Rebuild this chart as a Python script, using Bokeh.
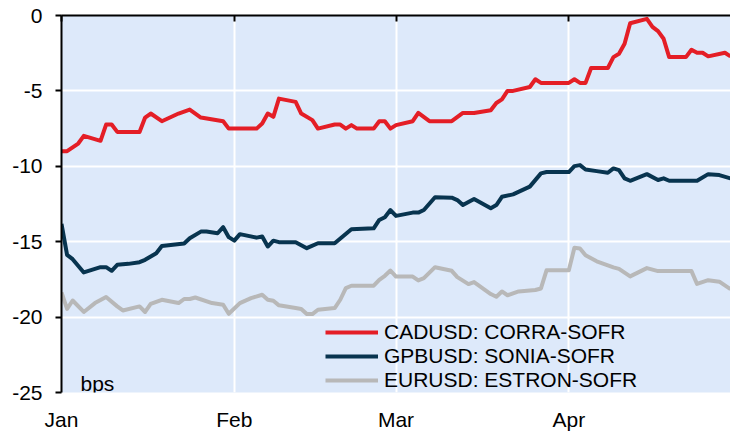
import pandas as pd
from bokeh.plotting import figure
from bokeh.models import (DatetimeAxis, FixedTicker, DatetimeTickFormatter, Legend,
                          LegendItem, Label, Range1d, ColumnDataSource)
from bokeh.embed import file_html
from bokeh.resources import INLINE

# ---------------- data ----------------
cad_dates = ["2024-01-01", "2024-01-02", "2024-01-04", "2024-01-05", "2024-01-08", "2024-01-09",
             "2024-01-10", "2024-01-11", "2024-01-15", "2024-01-16", "2024-01-17", "2024-01-19",
             "2024-01-22", "2024-01-24", "2024-01-26", "2024-01-30", "2024-01-31", "2024-02-05",
             "2024-02-06", "2024-02-07", "2024-02-08", "2024-02-09", "2024-02-12", "2024-02-13",
             "2024-02-15", "2024-02-16", "2024-02-19", "2024-02-20", "2024-02-21", "2024-02-22",
             "2024-02-23", "2024-02-26", "2024-02-27", "2024-02-28", "2024-02-29", "2024-03-01",
             "2024-03-04", "2024-03-05", "2024-03-07", "2024-03-11", "2024-03-13", "2024-03-15",
             "2024-03-18", "2024-03-19", "2024-03-20", "2024-03-21", "2024-03-22", "2024-03-25",
             "2024-03-26", "2024-03-27", "2024-04-01", "2024-04-02", "2024-04-03", "2024-04-04",
             "2024-04-05", "2024-04-08", "2024-04-09", "2024-04-10", "2024-04-11", "2024-04-12",
             "2024-04-15", "2024-04-16", "2024-04-17", "2024-04-18", "2024-04-19", "2024-04-22",
             "2024-04-23", "2024-04-24", "2024-04-25", "2024-04-26", "2024-04-29", "2024-04-30"]
cad_values = [-9.0, -9.0, -8.49, -7.98, -8.31, -7.23,
              -7.23, -7.72, -7.72, -6.77, -6.5, -7.01,
              -6.5, -6.24, -6.77, -7.01, -7.5, -7.5,
              -7.16, -6.5, -6.72, -5.51, -5.73, -6.5,
              -6.94, -7.5, -7.23, -7.23, -7.5, -7.27,
              -7.5, -7.5, -7.01, -7.01, -7.5, -7.27,
              -7.01, -6.46, -7.01, -7.01, -6.46, -6.46,
              -6.28, -5.8, -5.56, -5.0, -5.0, -4.74,
              -4.23, -4.47, -4.47, -4.23, -4.47, -4.47,
              -3.48, -3.48, -2.76, -2.54, -1.87, -0.51,
              -0.22, -0.75, -1.04, -1.54, -2.76, -2.76,
              -2.27, -2.47, -2.47, -2.71, -2.47, -2.71]

gbp_dates = ["2024-01-01", "2024-01-02", "2024-01-03", "2024-01-05", "2024-01-08", "2024-01-09",
             "2024-01-10", "2024-01-11", "2024-01-13", "2024-01-15", "2024-01-16", "2024-01-18",
             "2024-01-19", "2024-01-23", "2024-01-24", "2024-01-26", "2024-01-27", "2024-01-29",
             "2024-01-30", "2024-01-31", "2024-02-01", "2024-02-02", "2024-02-05", "2024-02-06",
             "2024-02-07", "2024-02-08", "2024-02-09", "2024-02-12", "2024-02-14", "2024-02-16",
             "2024-02-19", "2024-02-22", "2024-02-26", "2024-02-27", "2024-02-28", "2024-02-29",
             "2024-03-01", "2024-03-04", "2024-03-05", "2024-03-06", "2024-03-08", "2024-03-11",
             "2024-03-12", "2024-03-13", "2024-03-15", "2024-03-18", "2024-03-19", "2024-03-20",
             "2024-03-22", "2024-03-25", "2024-03-27", "2024-03-28", "2024-04-01", "2024-04-02",
             "2024-04-03", "2024-04-04", "2024-04-06", "2024-04-08", "2024-04-09", "2024-04-10",
             "2024-04-11", "2024-04-12", "2024-04-15", "2024-04-17", "2024-04-18", "2024-04-19",
             "2024-04-24", "2024-04-26", "2024-04-28", "2024-04-30"]
gbp_values = [-13.82, -15.87, -16.16, -17.04, -16.69, -16.69,
              -16.93, -16.53, -16.47, -16.36, -16.2, -15.76,
              -15.28, -15.12, -14.77, -14.33, -14.33, -14.44,
              -14.04, -14.7, -14.93, -14.5, -14.73, -14.66,
              -15.32, -14.93, -15.03, -15.03, -15.43, -15.1,
              -15.1, -14.17, -14.11, -13.56, -13.38, -12.9,
              -13.29, -13.07, -13.07, -12.9, -12.05, -12.08,
              -12.24, -12.57, -12.17, -12.78, -12.57, -12.02,
              -11.86, -11.35, -10.47, -10.38, -10.38, -9.99,
              -9.92, -10.21, -10.32, -10.43, -10.14, -10.25,
              -10.8, -10.96, -10.52, -10.91, -10.8, -10.96,
              -10.96, -10.52, -10.58, -10.8]

eur_dates = ["2024-01-01", "2024-01-02", "2024-01-03", "2024-01-05", "2024-01-07", "2024-01-09",
             "2024-01-11", "2024-01-12", "2024-01-15", "2024-01-16", "2024-01-17", "2024-01-19",
             "2024-01-22", "2024-01-23", "2024-01-24", "2024-01-25", "2024-01-28", "2024-01-30",
             "2024-01-31", "2024-02-02", "2024-02-04", "2024-02-06", "2024-02-07", "2024-02-08",
             "2024-02-09", "2024-02-12", "2024-02-13", "2024-02-14", "2024-02-15", "2024-02-16",
             "2024-02-19", "2024-02-20", "2024-02-21", "2024-02-22", "2024-02-26", "2024-02-27",
             "2024-02-28", "2024-02-29", "2024-03-01", "2024-03-04", "2024-03-05", "2024-03-06",
             "2024-03-08", "2024-03-11", "2024-03-12", "2024-03-14", "2024-03-15", "2024-03-18",
             "2024-03-19", "2024-03-20", "2024-03-21", "2024-03-23", "2024-03-26", "2024-03-27",
             "2024-03-28", "2024-04-01", "2024-04-02", "2024-04-03", "2024-04-04", "2024-04-06",
             "2024-04-09", "2024-04-10", "2024-04-12", "2024-04-15", "2024-04-17", "2024-04-23",
             "2024-04-24", "2024-04-26", "2024-04-28", "2024-04-30"]
eur_values = [-18.36, -19.46, -18.9, -19.66, -19.07, -18.67,
              -19.29, -19.56, -19.29, -19.66, -19.13, -18.85,
              -19.07, -18.8, -18.8, -18.7, -19.07, -19.18,
              -19.78, -19.07, -18.74, -18.52, -18.85, -18.92,
              -19.22, -19.4, -19.46, -19.8, -19.8, -19.51,
              -19.4, -18.85, -18.08, -17.92, -17.92, -17.53,
              -17.26, -16.91, -17.31, -17.31, -17.57, -17.42,
              -16.69, -16.93, -17.35, -17.81, -17.68, -18.47,
              -18.65, -18.3, -18.55, -18.3, -18.2, -18.1,
              -16.9, -16.9, -15.4, -15.45, -15.9, -16.3,
              -16.7, -16.8, -17.3, -16.75, -16.95, -16.95,
              -17.8, -17.55, -17.65, -18.15]

series_names = ["CADUSD: CORRA-SOFR", "GPBUSD: SONIA-SOFR", "EURUSD: ESTRON-SOFR"]
series_colors = ["#E41E26", "#08344F", "#B8B8B8"]

month_starts = ["2024-01-01", "2024-02-01", "2024-03-01", "2024-04-01"]
x_start, x_end = "2024-01-01", "2024-04-30"
y_ticks = [0, -5, -10, -15, -20, -25]
y_tick_labels = ["0", "-5", "-10", "-15", "-20", "-25"]
unit_label = "bps"

FONT = "Liberation Sans"
FS = "21px"

def ms(d):
    return pd.Timestamp(d).value / 1e6

p = figure(width=730, height=433, x_axis_type="datetime",
           x_range=Range1d(ms(x_start), ms(x_end)), y_range=Range1d(-25, 0),
           output_backend="svg", toolbar_location=None,
           min_border_left=61, min_border_right=0, min_border_top=15, min_border_bottom=40)
p.background_fill_color = "#DDE9FA"
p.border_fill_color = "white"
p.outline_line_color = None

month_ticks = [ms(d) for d in month_starts]

# bottom axis: labels only
xa = p.xaxis[0]
xa.ticker = FixedTicker(ticks=month_ticks)
fmt = "%b"
xa.formatter = DatetimeTickFormatter(milliseconds=fmt, seconds=fmt, minsec=fmt, minutes=fmt,
                                     hourmin=fmt, hours=fmt, days=fmt, months=fmt, years=fmt)
xa.axis_line_color = None
xa.major_tick_line_color = None
xa.minor_tick_line_color = None
xa.major_label_standoff = 9
xa.major_label_text_font = FONT
xa.major_label_text_font_size = FS
xa.major_label_text_color = "black"

# top axis line at y=0 with inward ticks (no labels)
top = DatetimeAxis(ticker=FixedTicker(ticks=month_ticks))
top.axis_line_color = "black"
top.axis_line_width = 2
top.major_tick_in = 6
top.major_tick_out = 0
top.major_tick_line_width = 2
top.major_tick_line_color = "black"
top.minor_tick_line_color = None
top.major_label_text_color = None
top.major_label_text_font_size = "1px"
top.major_label_standoff = 0
p.add_layout(top, "above")

ya = p.yaxis[0]
ya.ticker = FixedTicker(ticks=y_ticks)
ya.major_label_overrides = {t: lab for t, lab in zip(y_ticks, y_tick_labels)}
ya.axis_line_color = "black"
ya.axis_line_width = 2
ya.major_tick_in = 0
ya.major_tick_out = 6
ya.major_tick_line_width = 2
ya.minor_tick_line_color = None
ya.major_label_standoff = 13
ya.major_label_text_font = FONT
ya.major_label_text_font_size = FS
ya.major_label_text_color = "black"

p.xgrid.ticker = FixedTicker(ticks=month_ticks)
p.ygrid.ticker = FixedTicker(ticks=y_ticks)
p.xgrid.grid_line_color = "white"
p.ygrid.grid_line_color = "white"
p.xgrid.grid_line_width = 2
p.ygrid.grid_line_width = 2

renderers = []
for dates, vals, col in [(cad_dates, cad_values, series_colors[0]),
                         (gbp_dates, gbp_values, series_colors[1]),
                         (eur_dates, eur_values, series_colors[2])]:
    src = ColumnDataSource(dict(x=pd.to_datetime(dates), y=vals))
    r = p.line("x", "y", source=src, line_color=col, line_width=4, line_join="round")
    renderers.append(r)

legend = Legend(items=[LegendItem(label=n, renderers=[r]) for n, r in zip(series_names, renderers)],
                location=(264, 0), orientation="vertical",
                background_fill_alpha=0, border_line_alpha=0,
                padding=0, margin=0, spacing=0,
                glyph_width=53, glyph_height=24, label_height=24, label_standoff=6,
                label_text_font=FONT, label_text_font_size=FS, label_text_color="black")
p.add_layout(legend)

p.add_layout(Label(x=19, y=9, x_units="screen", y_units="screen", text=unit_label,
                   text_font=FONT, text_font_size=FS, text_color="black",
                   text_baseline="alphabetic"))

open("out.html", "w").write(file_html(p, INLINE))
